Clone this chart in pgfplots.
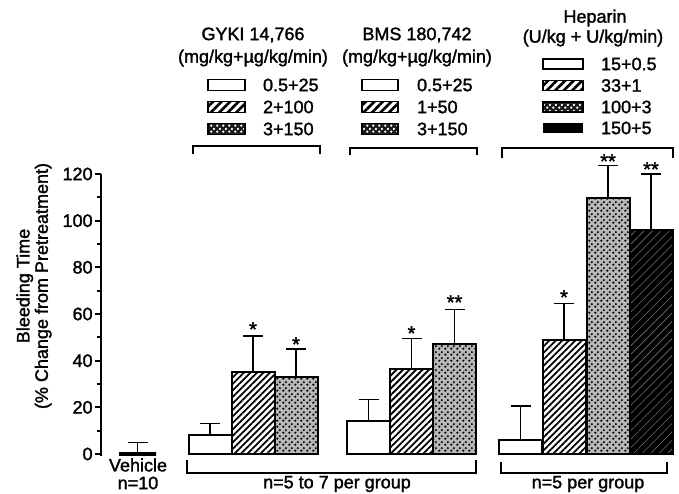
\documentclass[border=0pt]{standalone}
\usepackage{fontspec}
\setmainfont{Liberation Sans}[FakeBold=1.6]
\usepackage{pgfplots}
\pgfplotsset{compat=1.18}
\usetikzlibrary{patterns,patterns.meta}

\pgfdeclarepatternformonly{squig}{\pgfpointorigin}{\pgfqpoint{3pt}{3pt}}{\pgfqpoint{3pt}{3pt}}{%
  \pgfpathcircle{\pgfqpoint{0.75pt}{0.75pt}}{0.72pt}%
  \pgfpathcircle{\pgfqpoint{2.25pt}{2.25pt}}{0.72pt}%
  \pgfusepath{fill}%
}
\newcommand\ff{\fontsize{9}{9.2}\selectfont}
\newcommand\starfont{\fontsize{10}{10}\selectfont}

\begin{document}
\begin{tikzpicture}[font=\ff]
\begin{axis}[
  x=0.5pt, y=1.166667pt,
  xmin=101, xmax=679, ymin=-1, ymax=120,
  axis y line*=left, axis x line=none,
  ytick pos=left,
  ytick={0,20,...,120}, minor ytick={10,30,...,110},
  tick align=outside, major tick length=3pt, minor tick length=2pt,
  tick style={line width=1pt, black},
  y axis line style={line width=1.3pt},
  yticklabel style={font=\ff, inner sep=1pt},
  /pgf/number format/assume math mode=true,
  clip=false,
  ybar, bar width=43,
  error bars/y dir=plus, error bars/y explicit,
  error bars/error bar style={line width=0.8pt, black},
  error bars/error mark options={rotate=90, mark size=5pt, line width=0.8pt, black},
]
% Vehicle
\addplot[draw=black, fill=white, bar shift=0pt, bar width=37, line width=1.6pt]
  coordinates {(137.5,0) +- (0,5)};
% lowest doses (white)
\addplot[draw=black, fill=white, bar shift=0pt, line width=1pt]
  coordinates {(210,8) +- (0,5) (368.5,14.3) +- (0,9) (520.5,6) +- (0,14.6)};
% middle doses (hatched)
\addplot[draw=black, fill=white, bar shift=0pt, line width=1pt,
  postaction={pattern={Lines[angle=45,distance=2.3pt,line width=0.9pt]}, pattern color=black}]
  coordinates {(253,35) +- (0,15.5) (411.5,36.5) +- (0,13) (564,49) +- (0,15.5)};
% high doses (dotted)
\addplot[draw=black, fill=black!28, bar shift=0pt, line width=1pt,
  postaction={pattern=squig, pattern color=black}]
  coordinates {(296,33) +- (0,12) (454.5,47) +- (0,15) (608,109.7) +- (0,14)};
% heparin 150+5 (black)
\addplot[draw=black, fill=black, bar shift=0pt, line width=1pt,
  postaction={pattern={Lines[angle=45,distance=3pt,line width=0.3pt]}, pattern color=black!55}]
  coordinates {(651,96) +- (0,24)};
\coordinate (O) at (axis cs:0,194.5714);
\end{axis}

\begin{scope}[shift={(O)}, x=0.5pt, y=-0.5pt]
% y label
\node[rotate=90, align=center, font=\fontsize{9}{9.2}\selectfont] at (34,286)
  {Bleeding Time\\(\% Change from Pretreatment)};
% stars
\node[font=\starfont, inner sep=0, anchor=north] at (253,322) {*};
\node[font=\starfont, inner sep=0, anchor=north] at (296,337) {*};
\node[font=\starfont, inner sep=0, anchor=north] at (411.5,326) {*};
\node[font=\starfont, inner sep=0, anchor=north] at (454.5,295) {**};
\node[font=\starfont, inner sep=0, anchor=north] at (564,290) {*};
\node[font=\starfont, inner sep=0, anchor=north] at (608,154) {**};
\node[font=\starfont, inner sep=0, anchor=north] at (651,162) {**};
% titles
\node at (253,35) {GYKI 14,766};
\node at (253,58) {(mg/kg+µg/kg/min)};
\node at (417,35) {BMS 180,742};
\node at (417,58) {(mg/kg+µg/kg/min)};
\node at (595,18) {Heparin};
\node at (593,38) {(U/kg + U/kg/min)};
% GYKI legend
\draw[line width=0.9pt, fill=white] (208,79.5) rectangle (245,90.5);
\fill[white] (208,101.5) rectangle (245,112.5);
\path[pattern={Lines[angle=45,distance=3pt,line width=1.3pt]}, pattern color=black] (208,101.5) rectangle (245,112.5);
\draw[line width=0.9pt] (208,101.5) rectangle (245,112.5);
\fill[black!90] (208,123.5) rectangle (245,134.5);
\path[pattern=squig, pattern color=white] (208,123.5) rectangle (245,134.5);
\draw[line width=0.9pt] (208,123.5) rectangle (245,134.5);
\node[anchor=west] at (256,85) {0.5+25};
\node[anchor=west] at (256,107) {2+100};
\node[anchor=west] at (256,129) {3+150};
% BMS legend
\draw[line width=0.9pt, fill=white] (362,79.5) rectangle (398,90.5);
\fill[white] (362,101.5) rectangle (398,112.5);
\path[pattern={Lines[angle=45,distance=3pt,line width=1.3pt]}, pattern color=black] (362,101.5) rectangle (398,112.5);
\draw[line width=0.9pt] (362,101.5) rectangle (398,112.5);
\fill[black!90] (362,123.5) rectangle (398,134.5);
\path[pattern=squig, pattern color=white] (362,123.5) rectangle (398,134.5);
\draw[line width=0.9pt] (362,123.5) rectangle (398,134.5);
\node[anchor=west] at (410,85) {0.5+25};
\node[anchor=west] at (410,107) {1+50};
\node[anchor=west] at (410,129) {3+150};
% Heparin legend
\draw[line width=0.9pt, fill=white] (543,59) rectangle (583,69);
\fill[white] (543,80.5) rectangle (583,90.5);
\path[pattern={Lines[angle=45,distance=3pt,line width=1.3pt]}, pattern color=black] (543,80.5) rectangle (583,90.5);
\draw[line width=0.9pt] (543,80.5) rectangle (583,90.5);
\fill[black!90] (543,102) rectangle (583,112);
\path[pattern=squig, pattern color=white] (543,102) rectangle (583,112);
\draw[line width=0.9pt] (543,102) rectangle (583,112);
\fill[black] (543,123) rectangle (583,133);
\node[anchor=west] at (594,64) {15+0.5};
\node[anchor=west] at (594,85.5) {33+1};
\node[anchor=west] at (594,107) {100+3};
\node[anchor=west] at (594,128) {150+5};
% top brackets
\draw[line width=1pt] (193,154) -- (193,146) -- (320,146) -- (320,154);
\draw[line width=1pt] (350,155) -- (350,148) -- (477,148) -- (477,155);
\draw[line width=1pt] (502,158) -- (502,148) -- (673,148) -- (673,158);
% bottom brackets
\draw[line width=1pt] (187,460) -- (187,473) -- (476,473) -- (476,460);
\draw[line width=1pt] (501,462) -- (501,473) -- (667,473) -- (667,462);
\node at (337,484) {n=5 to 7 per group};
\node at (588,484) {n=5 per group};
\node at (138,465) {Vehicle};
\node at (138,483) {n=10};
\pgfresetboundingbox
\path[use as bounding box] (0,0) rectangle (679,493);
\end{scope}
\end{tikzpicture}
\end{document}
